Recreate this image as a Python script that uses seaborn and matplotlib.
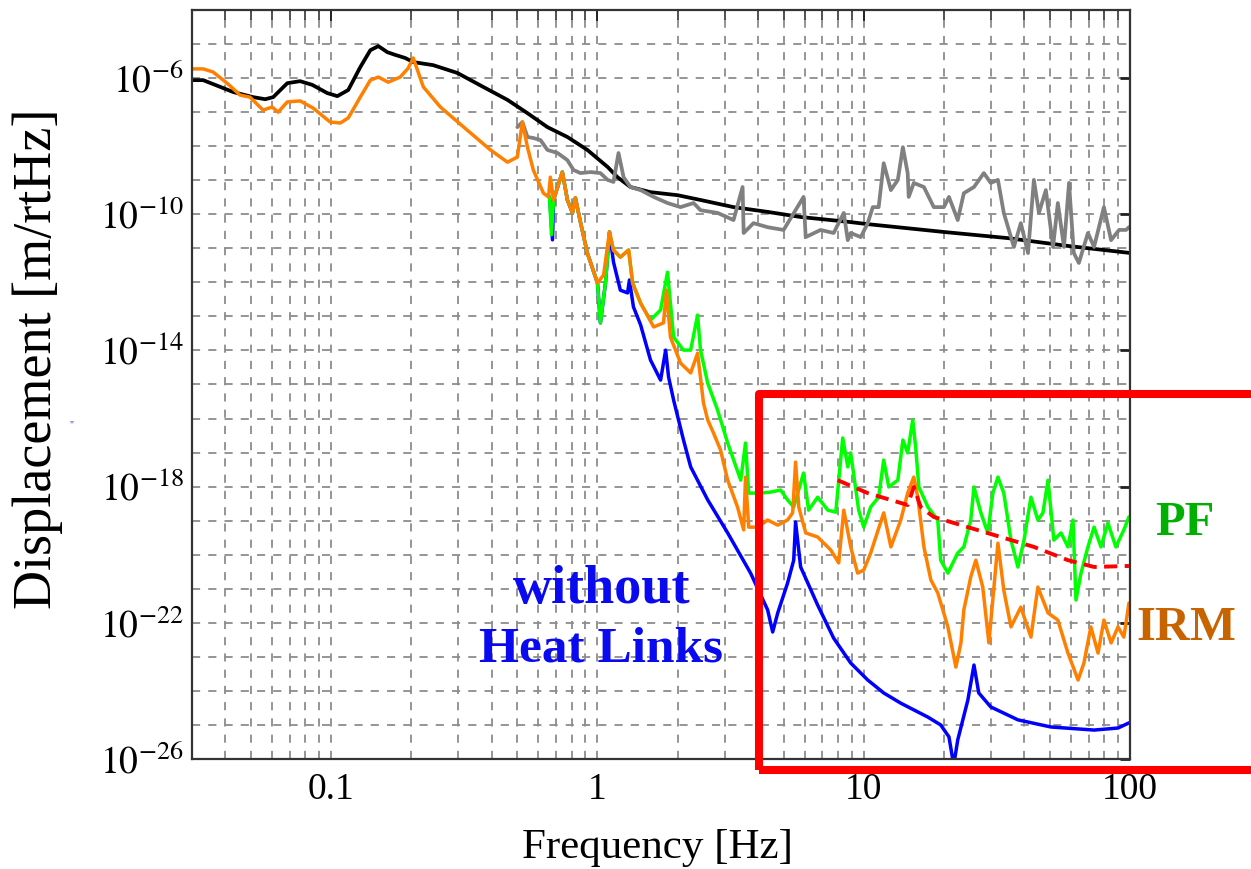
import numpy as np
import pandas as pd
import matplotlib
matplotlib.use("Agg")
import matplotlib.pyplot as plt
import matplotlib.ticker as mticker
from matplotlib.patches import Rectangle
import seaborn as sns

# ---------------- data: log10(frequency [Hz]) and log10(displacement [m/rtHz]) ----------------
black_log_f = [-1.523, -1.481, -1.368, -1.293, -1.248, -1.218, -1.165, -1.117, -1.071, -1.015,
               -0.977, -0.936, -0.891, -0.853, -0.823, -0.789, -0.759, -0.722, -0.692, -0.617,
               -0.526, -0.429, -0.338, -0.263, -0.188, -0.113, -0.038, 0.038, 0.075, 0.124,
               0.199, 0.301, 0.387, 0.511, 0.639, 0.763, 0.951, 1.015, 1.301, 1.541, 1.767, 2.004]
black_log_d = [-6.06, -6.06, -6.41, -6.56, -6.62, -6.56, -6.15, -6.09, -6.20, -6.44,
               -6.53, -6.35, -5.68, -5.18, -5.06, -5.24, -5.32, -5.41, -5.53, -5.62,
               -5.85, -6.26, -6.64, -7.03, -7.44, -7.73, -8.11, -8.61, -8.91, -9.20,
               -9.35, -9.44, -9.58, -9.79, -9.93, -10.08, -10.23, -10.29, -10.52, -10.70, -10.93, -11.14]

gray_log_f = [-0.301, -0.282, -0.263, -0.241, -0.214, -0.188, -0.150, -0.113, -0.090, -0.064,
              -0.026, 0.011, 0.038, 0.060, 0.079, 0.098, 0.124, 0.162, 0.211, 0.263,
              0.312, 0.361, 0.387, 0.451, 0.511, 0.545, 0.549, 0.586, 0.639, 0.699,
              0.774, 0.782, 0.838, 0.887, 0.925, 0.940, 0.951, 0.989, 1.015, 1.034,
              1.056, 1.075, 1.102, 1.128, 1.147, 1.165, 1.169, 1.188, 1.226, 1.263,
              1.301, 1.320, 1.353, 1.376, 1.414, 1.451, 1.477, 1.504, 1.526, 1.564,
              1.590, 1.617, 1.639, 1.658, 1.684, 1.711, 1.729, 1.752, 1.771, 1.789,
              1.808, 1.842, 1.865, 1.902, 1.929, 1.959, 1.985, 1.996]
gray_log_d = [-7.44, -7.29, -7.73, -7.76, -7.82, -8.11, -8.20, -8.41, -8.70, -8.79,
              -8.76, -8.79, -8.99, -9.05, -8.20, -8.91, -9.20, -9.29, -9.49, -9.67,
              -9.79, -9.67, -9.88, -9.96, -10.17, -9.20, -10.55, -10.26, -10.38, -10.46,
              -9.49, -10.67, -10.46, -10.55, -9.96, -10.76, -10.55, -10.67, -10.26, -9.79,
              -9.79, -8.50, -9.29, -8.99, -8.03, -8.79, -9.49, -9.08, -9.20, -9.79,
              -9.79, -9.49, -10.17, -9.38, -9.20, -8.79, -9.08, -8.99, -9.96, -10.96,
              -10.26, -11.14, -8.99, -9.96, -9.29, -10.96, -9.67, -10.96, -9.08, -11.14,
              -11.43, -10.55, -10.96, -9.79, -10.76, -10.46, -10.46, -10.38]

irm_log_f = [-1.523, -1.481, -1.444, -1.391, -1.342, -1.305, -1.256, -1.222, -1.199, -1.165,
             -1.117, -1.068, -1.004, -0.966, -0.936, -0.891, -0.853, -0.823, -0.786, -0.741,
             -0.711, -0.692, -0.654, -0.590, -0.489, -0.402, -0.338, -0.301, -0.282, -0.263,
             -0.241, -0.203, -0.184, -0.177, -0.165, -0.132, -0.113, -0.094, -0.083, -0.064,
             -0.038, 0.000, 0.023, 0.045, 0.060, 0.086, 0.117, 0.132, 0.162, 0.211,
             0.248, 0.259, 0.274, 0.312, 0.350, 0.376, 0.398, 0.414, 0.436, 0.462,
             0.489, 0.526, 0.549, 0.556, 0.568, 0.602, 0.639, 0.677, 0.714, 0.733,
             0.744, 0.756, 0.782, 0.827, 0.876, 0.906, 0.925, 0.951, 0.977, 1.000,
             1.026, 1.075, 1.102, 1.139, 1.165, 1.188, 1.203, 1.226, 1.252, 1.278,
             1.316, 1.346, 1.365, 1.376, 1.402, 1.421, 1.447, 1.470, 1.504, 1.526,
             1.553, 1.590, 1.628, 1.654, 1.692, 1.729, 1.767, 1.805, 1.827, 1.853,
             1.880, 1.902, 1.929, 1.955, 1.977, 1.996]
irm_log_d = [-5.73, -5.73, -5.82, -6.15, -6.50, -6.56, -6.94, -6.85, -7.00, -6.70,
             -6.67, -6.88, -7.29, -7.32, -7.17, -6.56, -6.06, -5.97, -6.12, -5.97,
             -5.71, -5.41, -6.26, -6.85, -7.53, -8.11, -8.47, -8.32, -7.29, -8.03,
             -8.70, -9.38, -9.49, -8.91, -9.58, -8.76, -9.58, -9.96, -9.52, -10.23,
             -11.14, -12.02, -11.78, -10.52, -11.05, -11.26, -11.05, -12.02, -12.61, -13.31,
             -13.19, -12.23, -13.61, -14.37, -14.66, -14.08, -15.54, -16.04, -16.43, -16.92,
             -17.81, -18.60, -19.27, -17.72, -19.19, -19.19, -18.98, -19.13, -18.98, -18.77,
             -17.28, -18.60, -19.36, -19.48, -19.86, -20.24, -18.69, -19.77, -20.54, -20.45,
             -19.95, -18.77, -19.77, -18.98, -18.19, -17.72, -18.31, -19.77, -20.74, -21.12,
             -22.12, -23.30, -22.59, -21.62, -20.65, -20.16, -20.95, -22.59, -19.66, -21.04,
             -22.12, -21.54, -22.42, -20.95, -21.71, -21.92, -22.89, -23.68, -23.18, -22.12,
             -22.89, -21.92, -22.59, -22.12, -22.42, -21.42]

pf_log_f = [-0.180, -0.173, -0.165, -0.132, -0.113, -0.094, -0.083, -0.064, -0.038, 0.000,
            0.011, 0.030, 0.045, 0.060, 0.086, 0.117, 0.132, 0.162, 0.199, 0.237,
            0.263, 0.286, 0.323, 0.350, 0.376, 0.387, 0.414, 0.451, 0.489, 0.538,
            0.556, 0.568, 0.613, 0.650, 0.688, 0.714, 0.737, 0.774, 0.793, 0.827,
            0.865, 0.895, 0.921, 0.940, 0.951, 0.981, 1.000, 1.026, 1.056, 1.075,
            1.094, 1.128, 1.147, 1.165, 1.184, 1.195, 1.207, 1.241, 1.278, 1.289,
            1.316, 1.353, 1.376, 1.402, 1.414, 1.440, 1.466, 1.485, 1.504, 1.526,
            1.553, 1.579, 1.602, 1.628, 1.654, 1.673, 1.692, 1.714, 1.741, 1.767,
            1.786, 1.797, 1.816, 1.842, 1.865, 1.891, 1.917, 1.947, 1.977, 1.996]
pf_log_d = [-9.49, -10.60, -9.58, -8.76, -9.58, -9.96, -9.52, -10.23, -11.14, -12.02,
            -13.19, -12.02, -10.52, -11.05, -11.26, -11.05, -12.02, -12.61, -13.11, -12.81,
            -11.70, -13.61, -13.99, -13.99, -12.96, -13.99, -14.96, -15.75, -16.72, -17.81,
            -16.72, -18.19, -18.19, -18.16, -18.10, -18.39, -18.60, -17.60, -18.69, -18.31,
            -18.69, -18.75, -16.57, -17.42, -17.01, -18.69, -19.19, -18.60, -18.31, -17.22,
            -18.01, -17.81, -16.63, -17.01, -16.04, -16.84, -18.01, -18.60, -18.98, -20.16,
            -20.54, -19.95, -19.77, -18.98, -18.01, -18.77, -19.36, -18.19, -17.72, -18.19,
            -19.57, -20.36, -19.57, -18.31, -18.98, -18.77, -17.81, -19.57, -19.36, -19.77,
            -18.98, -21.33, -20.54, -19.77, -19.19, -19.77, -19.07, -19.77, -19.27, -18.89]

nohl_log_f = [-0.180, -0.169, -0.165, -0.132, -0.113, -0.094, -0.083, -0.064, -0.038, 0.000,
              0.011, 0.030, 0.045, 0.060, 0.086, 0.113, 0.120, 0.135, 0.162, 0.199,
              0.237, 0.256, 0.267, 0.286, 0.323, 0.350, 0.414, 0.489, 0.575, 0.639,
              0.658, 0.677, 0.714, 0.737, 0.744, 0.763, 0.827, 0.887, 0.951, 1.015,
              1.075, 1.139, 1.241, 1.289, 1.320, 1.338, 1.353, 1.391, 1.414, 1.432,
              1.477, 1.579, 1.703, 1.865, 1.955, 1.996]
nohl_log_d = [-9.49, -10.75, -9.58, -8.76, -9.58, -9.96, -9.52, -10.23, -11.14, -12.02,
              -13.19, -12.02, -10.52, -11.40, -12.23, -12.31, -11.93, -12.72, -13.25, -14.28,
              -14.87, -13.99, -14.78, -15.46, -16.63, -17.42, -18.39, -19.36, -20.54, -21.62,
              -22.27, -21.71, -20.83, -20.16, -19.04, -20.36, -21.48, -22.45, -23.18, -23.68,
              -24.06, -24.36, -24.77, -25.00, -25.35, -26.18, -25.44, -24.27, -23.24, -24.06,
              -24.47, -24.85, -25.06, -25.15, -25.09, -24.94]

fit_log_f = [0.902, 1.015, 1.165, 1.188, 1.214, 1.263, 1.391, 1.515, 1.639, 1.767, 1.865, 1.996]
fit_log_d = [-17.81, -18.19, -18.54, -18.01, -18.60, -18.89, -19.19, -19.48, -19.77, -20.16, -20.36, -20.33]

x_tick_values = [0.1, 1, 10, 100]
y_label_exponents = [-26, -22, -18, -14, -10, -6]

# ---------------- style ----------------
sns.set_style("white")
plt.rcParams['font.family'] = ['Liberation Serif', 'DejaVu Serif']
plt.rcParams['mathtext.fontset'] = 'stix'

fig = plt.figure(figsize=(12.51, 8.69), dpi=100)
ax = fig.add_axes([192 / 1251, 1 - 759 / 869, 938 / 1251, 749 / 869])
ax.set_xscale('log')
ax.set_yscale('log')


def frame(lf, ld):
    return pd.DataFrame({'f': np.power(10.0, np.array(lf)), 'd': np.power(10.0, np.array(ld))})


curves = [
    (black_log_f, black_log_d, '#000000', 2.7),
    (gray_log_f, gray_log_d, '#808080', 2.7),
    (nohl_log_f, nohl_log_d, '#0000FF', 2.5),
    (pf_log_f, pf_log_d, '#00FF00', 2.5),
    (irm_log_f, irm_log_d, '#FF8000', 2.5),
]
for lf, ld, col, lw in curves:
    sns.lineplot(data=frame(lf, ld), x='f', y='d', ax=ax, color=col, linewidth=lw,
                 estimator=None, sort=False, legend=False)

sns.lineplot(data=frame(fit_log_f, fit_log_d), x='f', y='d', ax=ax, color='#FF0000',
             linewidth=2.8, estimator=None, sort=False, legend=False)
ax.lines[-1].set_dashes((3.4, 1.9))

ax.set_xlim(0.03, 100)
ax.set_ylim(1e-26, 1e-4)

# ticks
ax.xaxis.set_major_locator(mticker.FixedLocator(x_tick_values))
ax.xaxis.set_major_formatter(mticker.FixedFormatter([f"{v:g}" for v in x_tick_values]))
ax.xaxis.set_minor_locator(mticker.LogLocator(base=10, subs=np.arange(2, 10), numticks=30))
ax.xaxis.set_minor_formatter(mticker.NullFormatter())

ax.yaxis.set_major_locator(mticker.FixedLocator([10.0 ** e for e in y_label_exponents]))
ax.yaxis.set_major_formatter(mticker.FixedFormatter([f"$10^{{{e}}}$" for e in y_label_exponents]))
ax.yaxis.set_minor_locator(mticker.LogLocator(base=10, subs=(1.0,), numticks=60))
ax.yaxis.set_minor_formatter(mticker.NullFormatter())

ax.tick_params(which='both', direction='in', top=True, right=True, colors='#222222')
ax.tick_params(axis='x', which='major', length=8, width=1.4, labelsize=27, pad=10, labelcolor='black')
ax.tick_params(axis='x', which='minor', length=7, width=1.1)
ax.tick_params(axis='y', which='major', length=7, width=2.0, labelsize=27, pad=6, labelcolor='black')
ax.tick_params(axis='y', which='minor', length=0)

ax.grid(True, which='both', axis='both', color='#8c8c8c', linestyle=(0, (4.5, 4.5)), linewidth=1.3)
ax.set_axisbelow(True)
for sp in ax.spines.values():
    sp.set_color('#333333')
    sp.set_linewidth(1.6)

ax.set_xlabel('')
ax.set_ylabel('')
fig.text(38 / 1251, 1 - 359 / 869, 'Displacement [m/rtHz]', rotation=90, ha='center', va='center',
         fontsize=39, color='black')
fig.text(658 / 1251, 1 - 848 / 869, 'Frequency [Hz]', ha='center', va='center', fontsize=31, color='black')

# annotations
fig.text(602 / 1251, 1 - 603 / 869, 'without', ha='center', va='baseline', fontsize=39,
         fontweight='bold', color='#0A0AF0')
fig.text(601 / 1251, 1 - 662 / 869, 'Heat Links', ha='center', va='baseline', fontsize=37,
         fontweight='bold', color='#0A0AF0')
fig.text(1185 / 1251, 1 - 535 / 869, 'PF', ha='center', va='baseline', fontsize=35,
         fontweight='bold', color='#00B000')
fig.text(1186 / 1251, 1 - 640 / 869, 'IRM', ha='center', va='baseline', fontsize=35,
         fontweight='bold', color='#C86400')
fig.text(71 / 1251, 1 - 425 / 869, '"', ha='center', va='center', fontsize=7, color='#2020C0')

# highlight rectangle
fig.add_artist(Rectangle((759 / 1251, 1 - 770 / 869), 0.45, (770 - 393.5) / 869,
                         transform=fig.transFigure, fill=False, edgecolor='#FF0000',
                         linewidth=5.8, joinstyle='round', clip_on=False))

fig.savefig('out.png', dpi=100)
